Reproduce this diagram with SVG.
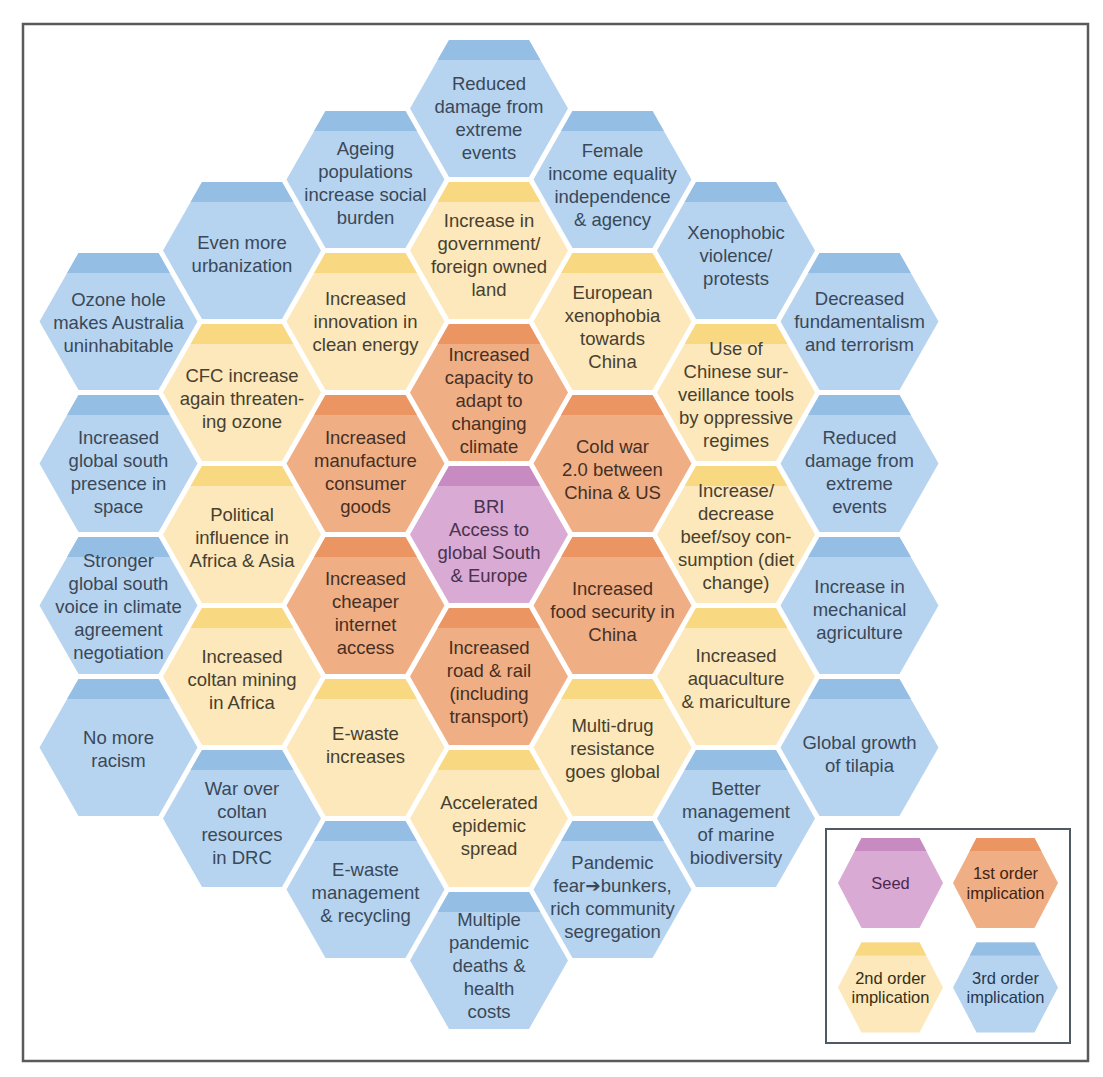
<svg xmlns="http://www.w3.org/2000/svg" xmlns:xlink="http://www.w3.org/1999/xlink" width="1103" height="1077" viewBox="0 0 1103 1077">
<style>
.t{font-family:"Liberation Sans",Arial,sans-serif;font-size:18.5px;text-anchor:middle}
.lt{font-family:"Liberation Sans",Arial,sans-serif;font-size:16.5px;text-anchor:middle}
.bF{fill:#b6d4ef}.bB{fill:#95bee4}.bT{fill:#3a4858}
.yF{fill:#fce8ba}.yB{fill:#f8d881}.yT{fill:#474030}
.oF{fill:#f0ae84}.oB{fill:#ea9562}.oT{fill:#463024}
.pF{fill:#d8aad4}.pB{fill:#c78bc2}.pT{fill:#4a324d}
.ar{font-family:"DejaVu Sans",sans-serif}
</style>
<defs>
<polygon id="hex" points="-79,0 -40,-68.5 40,-68.5 79,0 40,68.5 -40,68.5"/>
<polygon id="band" points="-40,-68.5 40,-68.5 51.4,-48.5 -51.4,-48.5"/>
<polygon id="lhex" points="-52.5,0 -29,-45 29,-45 52.5,0 29,45 -29,45"/>
<polygon id="lband" points="-29,-45 29,-45 35.8,-32 -35.8,-32"/>
</defs>
<rect x="0" y="0" width="1103" height="1077" fill="#ffffff"/>
<rect x="23" y="24" width="1065" height="1037" fill="none" stroke="#5a5a5a" stroke-width="2.5"/>
<g id="connectors"/>

<!-- column k=0 -->
<g id="n-reduced-damage-top"><use href="#hex" x="489" y="108.5" class="bF"/><use href="#band" x="489" y="108.5" class="bB"/>
<text class="t bT"><tspan x="489" y="90">Reduced</tspan><tspan x="489" y="113">damage from</tspan><tspan x="489" y="136">extreme</tspan><tspan x="489" y="159">events</tspan></text></g>
<g id="n-gov-land"><use href="#hex" x="489" y="250.5" class="yF"/><use href="#band" x="489" y="250.5" class="yB"/>
<text class="t yT"><tspan x="489" y="226.5">Increase in</tspan><tspan x="489" y="249.5">government/</tspan><tspan x="489" y="272.5">foreign owned</tspan><tspan x="489" y="295.5">land</tspan></text></g>
<g id="n-capacity"><use href="#hex" x="489" y="392.5" class="oF"/><use href="#band" x="489" y="392.5" class="oB"/>
<text class="t oT"><tspan x="489" y="361">Increased</tspan><tspan x="489" y="384">capacity to</tspan><tspan x="489" y="407">adapt to</tspan><tspan x="489" y="430">changing</tspan><tspan x="489" y="453">climate</tspan></text></g>
<g id="n-bri"><use href="#hex" x="489" y="534.5" class="pF"/><use href="#band" x="489" y="534.5" class="pB"/>
<text class="t pT"><tspan x="489" y="513">BRI</tspan><tspan x="489" y="536">Access to</tspan><tspan x="489" y="559">global South</tspan><tspan x="489" y="582">&amp; Europe</tspan></text></g>
<g id="n-road-rail"><use href="#hex" x="489" y="676.5" class="oF"/><use href="#band" x="489" y="676.5" class="oB"/>
<text class="t oT"><tspan x="489" y="654">Increased</tspan><tspan x="489" y="677">road &amp; rail</tspan><tspan x="489" y="700">(including</tspan><tspan x="489" y="723">transport)</tspan></text></g>
<g id="n-epidemic"><use href="#hex" x="489" y="818.5" class="yF"/><use href="#band" x="489" y="818.5" class="yB"/>
<text class="t yT"><tspan x="489" y="808.5">Accelerated</tspan><tspan x="489" y="831.5">epidemic</tspan><tspan x="489" y="854.5">spread</tspan></text></g>
<g id="n-pandemic-deaths"><use href="#hex" x="489" y="960.5" class="bF"/><use href="#band" x="489" y="960.5" class="bB"/>
<text class="t bT"><tspan x="489" y="925.5">Multiple</tspan><tspan x="489" y="948.5">pandemic</tspan><tspan x="489" y="971.5">deaths &amp;</tspan><tspan x="489" y="994.5">health</tspan><tspan x="489" y="1017.5">costs</tspan></text></g>

<!-- column k=-1 -->
<g id="n-ageing"><use href="#hex" x="365.5" y="179.5" class="bF"/><use href="#band" x="365.5" y="179.5" class="bB"/>
<text class="t bT"><tspan x="365.5" y="155">Ageing</tspan><tspan x="365.5" y="178">populations</tspan><tspan x="365.5" y="201">increase social</tspan><tspan x="365.5" y="224">burden</tspan></text></g>
<g id="n-clean-energy"><use href="#hex" x="365.5" y="321.5" class="yF"/><use href="#band" x="365.5" y="321.5" class="yB"/>
<text class="t yT"><tspan x="365.5" y="305">Increased</tspan><tspan x="365.5" y="328">innovation in</tspan><tspan x="365.5" y="351">clean energy</tspan></text></g>
<g id="n-manufacture"><use href="#hex" x="365.5" y="463.5" class="oF"/><use href="#band" x="365.5" y="463.5" class="oB"/>
<text class="t oT"><tspan x="365.5" y="443.5">Increased</tspan><tspan x="365.5" y="466.5">manufacture</tspan><tspan x="365.5" y="489.5">consumer</tspan><tspan x="365.5" y="512.5">goods</tspan></text></g>
<g id="n-internet"><use href="#hex" x="365.5" y="605.5" class="oF"/><use href="#band" x="365.5" y="605.5" class="oB"/>
<text class="t oT"><tspan x="365.5" y="585">Increased</tspan><tspan x="365.5" y="608">cheaper</tspan><tspan x="365.5" y="631">internet</tspan><tspan x="365.5" y="654">access</tspan></text></g>
<g id="n-ewaste-inc"><use href="#hex" x="365.5" y="747.5" class="yF"/><use href="#band" x="365.5" y="747.5" class="yB"/>
<text class="t yT"><tspan x="365.5" y="740">E-waste</tspan><tspan x="365.5" y="763">increases</tspan></text></g>
<g id="n-ewaste-mgmt"><use href="#hex" x="365.5" y="889.5" class="bF"/><use href="#band" x="365.5" y="889.5" class="bB"/>
<text class="t bT"><tspan x="365.5" y="875.5">E-waste</tspan><tspan x="365.5" y="898.5">management</tspan><tspan x="365.5" y="921.5">&amp; recycling</tspan></text></g>

<!-- column k=-2 -->
<g id="n-urbanization"><use href="#hex" x="242" y="250.5" class="bF"/><use href="#band" x="242" y="250.5" class="bB"/>
<text class="t bT"><tspan x="242" y="249">Even more</tspan><tspan x="242" y="272">urbanization</tspan></text></g>
<g id="n-cfc"><use href="#hex" x="242" y="392.5" class="yF"/><use href="#band" x="242" y="392.5" class="yB"/>
<text class="t yT"><tspan x="242" y="381.5">CFC increase</tspan><tspan x="242" y="404.5">again threaten-</tspan><tspan x="242" y="427.5">ing ozone</tspan></text></g>
<g id="n-political"><use href="#hex" x="242" y="534.5" class="yF"/><use href="#band" x="242" y="534.5" class="yB"/>
<text class="t yT"><tspan x="242" y="520.5">Political</tspan><tspan x="242" y="543.5">influence in</tspan><tspan x="242" y="566.5">Africa &amp; Asia</tspan></text></g>
<g id="n-coltan-mining"><use href="#hex" x="242" y="676.5" class="yF"/><use href="#band" x="242" y="676.5" class="yB"/>
<text class="t yT"><tspan x="242" y="662.5">Increased</tspan><tspan x="242" y="685.5">coltan mining</tspan><tspan x="242" y="708.5">in Africa</tspan></text></g>
<g id="n-coltan-war"><use href="#hex" x="242" y="818.5" class="bF"/><use href="#band" x="242" y="818.5" class="bB"/>
<text class="t bT"><tspan x="242" y="794.5">War over</tspan><tspan x="242" y="817.5">coltan</tspan><tspan x="242" y="840.5">resources</tspan><tspan x="242" y="863.5">in DRC</tspan></text></g>

<!-- column k=-3 -->
<g id="n-ozone"><use href="#hex" x="118.5" y="321.5" class="bF"/><use href="#band" x="118.5" y="321.5" class="bB"/>
<text class="t bT"><tspan x="118.5" y="305.5">Ozone hole</tspan><tspan x="118.5" y="328.5">makes Australia</tspan><tspan x="118.5" y="351.5">uninhabitable</tspan></text></g>
<g id="n-space"><use href="#hex" x="118.5" y="463.5" class="bF"/><use href="#band" x="118.5" y="463.5" class="bB"/>
<text class="t bT"><tspan x="118.5" y="443.5">Increased</tspan><tspan x="118.5" y="466.5">global south</tspan><tspan x="118.5" y="489.5">presence in</tspan><tspan x="118.5" y="512.5">space</tspan></text></g>
<g id="n-voice"><use href="#hex" x="118.5" y="605.5" class="bF"/><use href="#band" x="118.5" y="605.5" class="bB"/>
<text class="t bT"><tspan x="118.5" y="567">Stronger</tspan><tspan x="118.5" y="590">global south</tspan><tspan x="118.5" y="613">voice in climate</tspan><tspan x="118.5" y="636">agreement</tspan><tspan x="118.5" y="659">negotiation</tspan></text></g>
<g id="n-racism"><use href="#hex" x="118.5" y="747.5" class="bF"/><use href="#band" x="118.5" y="747.5" class="bB"/>
<text class="t bT"><tspan x="118.5" y="744">No more</tspan><tspan x="118.5" y="767">racism</tspan></text></g>

<!-- column k=1 -->
<g id="n-female"><use href="#hex" x="612.5" y="179.5" class="bF"/><use href="#band" x="612.5" y="179.5" class="bB"/>
<text class="t bT"><tspan x="612.5" y="157">Female</tspan><tspan x="612.5" y="180">income equality</tspan><tspan x="612.5" y="203">independence</tspan><tspan x="612.5" y="226">&amp; agency</tspan></text></g>
<g id="n-european"><use href="#hex" x="612.5" y="321.5" class="yF"/><use href="#band" x="612.5" y="321.5" class="yB"/>
<text class="t yT"><tspan x="612.5" y="299">European</tspan><tspan x="612.5" y="322">xenophobia</tspan><tspan x="612.5" y="345">towards</tspan><tspan x="612.5" y="368">China</tspan></text></g>
<g id="n-cold-war"><use href="#hex" x="612.5" y="463.5" class="oF"/><use href="#band" x="612.5" y="463.5" class="oB"/>
<text class="t oT"><tspan x="612.5" y="452.5">Cold war</tspan><tspan x="612.5" y="475.5">2.0 between</tspan><tspan x="612.5" y="498.5">China &amp; US</tspan></text></g>
<g id="n-food"><use href="#hex" x="612.5" y="605.5" class="oF"/><use href="#band" x="612.5" y="605.5" class="oB"/>
<text class="t oT"><tspan x="612.5" y="594.5">Increased</tspan><tspan x="612.5" y="617.5">food security in</tspan><tspan x="612.5" y="640.5">China</tspan></text></g>
<g id="n-multidrug"><use href="#hex" x="612.5" y="747.5" class="yF"/><use href="#band" x="612.5" y="747.5" class="yB"/>
<text class="t yT"><tspan x="612.5" y="731.5">Multi-drug</tspan><tspan x="612.5" y="754.5">resistance</tspan><tspan x="612.5" y="777.5">goes global</tspan></text></g>
<g id="n-pandemic-fear"><use href="#hex" x="612.5" y="889.5" class="bF"/><use href="#band" x="612.5" y="889.5" class="bB"/>
<text class="t bT"><tspan x="612.5" y="868.5">Pandemic</tspan><tspan x="612.5" y="891.5">fear<tspan class="ar">➔</tspan>bunkers,</tspan><tspan x="612.5" y="914.5">rich community</tspan><tspan x="612.5" y="937.5">segregation</tspan></text></g>

<!-- column k=2 -->
<g id="n-xenophobic"><use href="#hex" x="736" y="250.5" class="bF"/><use href="#band" x="736" y="250.5" class="bB"/>
<text class="t bT"><tspan x="736" y="238.5">Xenophobic</tspan><tspan x="736" y="261.5">violence/</tspan><tspan x="736" y="284.5">protests</tspan></text></g>
<g id="n-surveillance"><use href="#hex" x="736" y="392.5" class="yF"/><use href="#band" x="736" y="392.5" class="yB"/>
<text class="t yT"><tspan x="736" y="354.5">Use of</tspan><tspan x="736" y="377.5">Chinese sur-</tspan><tspan x="736" y="400.5">veillance tools</tspan><tspan x="736" y="423.5">by oppressive</tspan><tspan x="736" y="446.5">regimes</tspan></text></g>
<g id="n-diet"><use href="#hex" x="736" y="534.5" class="yF"/><use href="#band" x="736" y="534.5" class="yB"/>
<text class="t yT"><tspan x="736" y="496.5">Increase/</tspan><tspan x="736" y="519.5">decrease</tspan><tspan x="736" y="542.5">beef/soy con-</tspan><tspan x="736" y="565.5">sumption (diet</tspan><tspan x="736" y="588.5">change)</tspan></text></g>
<g id="n-aquaculture"><use href="#hex" x="736" y="676.5" class="yF"/><use href="#band" x="736" y="676.5" class="yB"/>
<text class="t yT"><tspan x="736" y="661.5">Increased</tspan><tspan x="736" y="684.5">aquaculture</tspan><tspan x="736" y="707.5">&amp; mariculture</tspan></text></g>
<g id="n-marine"><use href="#hex" x="736" y="818.5" class="bF"/><use href="#band" x="736" y="818.5" class="bB"/>
<text class="t bT"><tspan x="736" y="794.5">Better</tspan><tspan x="736" y="817.5">management</tspan><tspan x="736" y="840.5">of marine</tspan><tspan x="736" y="863.5">biodiversity</tspan></text></g>

<!-- column k=3 -->
<g id="n-fundamentalism"><use href="#hex" x="859.5" y="321.5" class="bF"/><use href="#band" x="859.5" y="321.5" class="bB"/>
<text class="t bT"><tspan x="859.5" y="304.5">Decreased</tspan><tspan x="859.5" y="327.5">fundamentalism</tspan><tspan x="859.5" y="350.5">and terrorism</tspan></text></g>
<g id="n-reduced-damage-right"><use href="#hex" x="859.5" y="463.5" class="bF"/><use href="#band" x="859.5" y="463.5" class="bB"/>
<text class="t bT"><tspan x="859.5" y="443.5">Reduced</tspan><tspan x="859.5" y="466.5">damage from</tspan><tspan x="859.5" y="489.5">extreme</tspan><tspan x="859.5" y="512.5">events</tspan></text></g>
<g id="n-mechanical"><use href="#hex" x="859.5" y="605.5" class="bF"/><use href="#band" x="859.5" y="605.5" class="bB"/>
<text class="t bT"><tspan x="859.5" y="592.5">Increase in</tspan><tspan x="859.5" y="615.5">mechanical</tspan><tspan x="859.5" y="638.5">agriculture</tspan></text></g>
<g id="n-tilapia"><use href="#hex" x="859.5" y="747.5" class="bF"/><use href="#band" x="859.5" y="747.5" class="bB"/>
<text class="t bT"><tspan x="859.5" y="748.5">Global growth</tspan><tspan x="859.5" y="771.5">of tilapia</tspan></text></g>

<!-- legend -->
<g id="legend">
<rect x="826" y="829" width="244" height="214" fill="#ffffff" stroke="#505a64" stroke-width="2"/>
<g id="legend-seed"><use href="#lhex" x="890.5" y="883" class="pF"/><use href="#lband" x="890.5" y="883" class="pB"/>
<text class="lt" fill="#4f2650"><tspan x="890.5" y="889">Seed</tspan></text></g>
<g id="legend-first"><use href="#lhex" x="1005.5" y="883" class="oF"/><use href="#lband" x="1005.5" y="883" class="oB"/>
<text class="lt" fill="#42230f"><tspan x="1005.5" y="879">1st order</tspan><tspan x="1005.5" y="898.5">implication</tspan></text></g>
<g id="legend-second"><use href="#lhex" x="890.5" y="987.5" class="yF"/><use href="#lband" x="890.5" y="987.5" class="yB"/>
<text class="lt" fill="#363018"><tspan x="890.5" y="983.5">2nd order</tspan><tspan x="890.5" y="1003">implication</tspan></text></g>
<g id="legend-third"><use href="#lhex" x="1005.5" y="987.5" class="bF"/><use href="#lband" x="1005.5" y="987.5" class="bB"/>
<text class="lt" fill="#27384e"><tspan x="1005.5" y="983.5">3rd order</tspan><tspan x="1005.5" y="1003">implication</tspan></text></g>
</g>
</svg>
